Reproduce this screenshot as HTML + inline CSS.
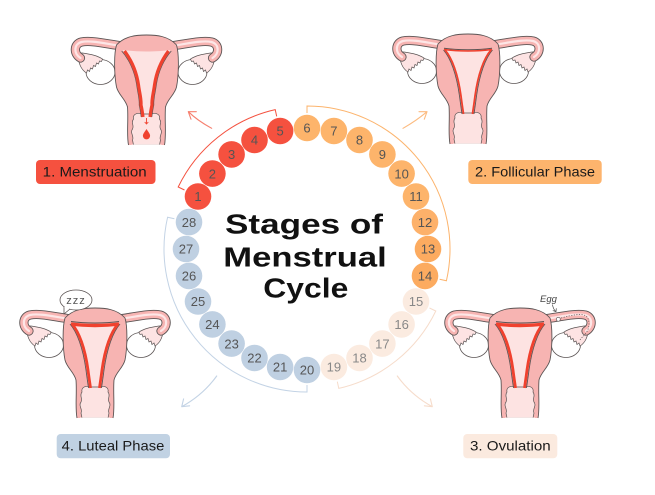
<!DOCTYPE html>
<html><head><meta charset="utf-8"><style>
html,body{margin:0;padding:0;background:#fff;}
svg{display:block;}
text{font-family:"Liberation Sans",sans-serif;}
</style></head><body>
<svg width="655" height="495" viewBox="0 0 655 495" xmlns="http://www.w3.org/2000/svg">
<defs>
<g id="tube">
  <ellipse cx="-46" cy="37" rx="14.5" ry="12.5" fill="#fff" stroke="#5b5454" stroke-width="0.8"/>
  <path d="M -68,18 C -69,28 -65,35 -60,38 L -59,35 L -57,36.5 L -56,33 L -54,34 L -53,30.5 L -51,31.5 L -50,28 L -48,29 L -47,26 L -45,26.5 L -44,24 C -50,20 -58,19 -64,18 Z" fill="#fde3e3" stroke="#5b5454" stroke-width="0.7"/>
  <path d="M -24,11 C -40,9 -55,5 -65,7 C -73,9 -73,19 -66,23" fill="none" stroke="#5b5454" stroke-width="9.2" stroke-linecap="round"/>
  <path d="M -24,11 C -40,9 -55,5 -65,7 C -73,9 -73,19 -66,23" fill="none" stroke="#f7b4b2" stroke-width="7.4" stroke-linecap="round"/>
  <path d="M -24,11 C -40,9 -55,5 -65,7 C -73,9 -73,19 -66,23" fill="none" stroke="#fde6e6" stroke-width="2.2" stroke-linecap="round"/>
</g>
<g id="ut">
  <use href="#tube"/>
  <g transform="scale(-1,1)"><use href="#tube"/></g>
  <path d="M -30,10 C -22,1 -10,0 0,0 C 10,0 22,1 30,10 C 33,20 32,42 30,52 C 28,60 21,64 19,72 C 18,85 20,100 18,110 L -18,110 C -20,100 -18,85 -19,72 C -21,64 -28,60 -30,52 C -32,42 -33,20 -30,10 Z" fill="#f7b4b2"/>
  <path d="M 18,110 C 20,100 18,85 19,72 C 21,64 28,60 30,52 C 32,42 33,20 30,10 C 22,1 10,0 0,0 C -10,0 -22,1 -30,10 C -33,20 -32,42 -30,52 C -28,60 -21,64 -19,72 C -18,85 -20,100 -18,110" fill="none" stroke="#5b5454" stroke-width="0.9"/>
  <path d="M -24,15 C -10,17 10,17 24,15 C 17,24 10,40 7,62 C 6,70 5,76 4,80 L -4,80 C -5,76 -6,70 -7,62 C -10,40 -17,24 -24,15 Z" fill="#fde3e2"/>
  <path d="M -5,79 C -10,77 -14,80 -13,84 C -16,88 -12,90 -14,94 C -17,98 -12,101 -14,105 L -13,110 L 13,110 L 14,105 C 12,101 17,98 14,94 C 12,90 16,88 13,84 C 14,80 10,77 5,79 Z" fill="#fde3e2" stroke="#5b5454" stroke-width="0.7"/>
  <rect x="-15" y="109.6" width="30" height="2" fill="#fff"/>
</g>
</defs>

<!-- Uterus 1: Menstruation -->
<g transform="translate(146.5,35)">
  <use href="#ut"/>
  <path d="M -23,16 C -16,24 -10,36 -8,50 C -7,58 -5,64 -5.5,70 C -4.5,74 -4,78 -3.5,82" fill="none" stroke="#5b5454" stroke-width="0.8" transform="translate(-1.8,0)"/>
  <path d="M 23,16 C 16,24 10,36 8,50 C 7,58 5,64 5.5,70 C 4.5,74 4,78 3.5,82" fill="none" stroke="#5b5454" stroke-width="0.8" transform="translate(1.8,0)"/>
  <path d="M -22,16 C -16,24 -10,36 -8,50 C -7,58 -5,64 -5.5,70 C -4.5,74 -4,78 -3.5,82" fill="none" stroke="#f0412e" stroke-width="3.2"/>
  <path d="M 22,16 C 16,24 10,36 8,50 C 7,58 5,64 5.5,70 C 4.5,74 4,78 3.5,82" fill="none" stroke="#f0412e" stroke-width="3.2"/>
  <path d="M 0,83 L 0,89 M -1.8,87 L 0,89 L 1.8,87" fill="none" stroke="#f0412e" stroke-width="0.9"/>
  <path d="M 0,94 C 2,97 3.6,99 3.6,100.8 A 3.6,3.6 0 0 1 -3.6,100.8 C -3.6,99 -2,97 0,94 Z" fill="#f0412e"/>
</g>

<!-- Uterus 2: Follicular -->
<g transform="translate(468,34)">
  <use href="#ut"/>
  <path d="M -24,15 C -10,17 10,17 24,15" fill="none" stroke="#5b5454" stroke-width="1" transform="translate(0,-0.8)"/>
  <path d="M -24,15.5 C -10,17.5 10,17.5 24,15.5" fill="none" stroke="#f0412e" stroke-width="1.6"/>
  <path d="M -23,16 C -16,24 -10,40 -7,62 C -6,70 -5,76 -4.5,80" fill="none" stroke="#5b5454" stroke-width="0.9" transform="translate(-1.5,0)"/>
  <path d="M 23,16 C 16,24 10,40 7,62 C 6,70 5,76 4.5,80" fill="none" stroke="#5b5454" stroke-width="0.9" transform="translate(1.5,0)"/>
  <path d="M -23,16 C -16,24 -10,40 -7,62 C -6,70 -5,76 -4.5,80" fill="none" stroke="#f0412e" stroke-width="1.8"/>
  <path d="M 23,16 C 16,24 10,40 7,62 C 6,70 5,76 4.5,80" fill="none" stroke="#f0412e" stroke-width="1.8"/>
</g>

<!-- Uterus 3: Luteal -->
<g transform="translate(95,308)">
  <use href="#ut"/>
  <path d="M -24,15 C -10,17 10,17 24,15" fill="none" stroke="#5b5454" stroke-width="1" transform="translate(0,-1.5)"/>
  <path d="M -24,16 C -10,18 10,18 24,16" fill="none" stroke="#f0412e" stroke-width="3.4"/>
  <path d="M -23,16 C -16,24 -10,40 -7,62 C -6,70 -5,76 -4.5,80" fill="none" stroke="#5b5454" stroke-width="0.9" transform="translate(-2,0)"/>
  <path d="M 23,16 C 16,24 10,40 7,62 C 6,70 5,76 4.5,80" fill="none" stroke="#5b5454" stroke-width="0.9" transform="translate(2,0)"/>
  <path d="M -23,16 C -16,24 -10,40 -7,62 C -6,70 -5,76 -4.5,80" fill="none" stroke="#f0412e" stroke-width="2.8"/>
  <path d="M 23,16 C 16,24 10,40 7,62 C 6,70 5,76 4.5,80" fill="none" stroke="#f0412e" stroke-width="2.8"/>
</g>
<!-- zzz bubble -->
<ellipse cx="76" cy="300" rx="16" ry="10" fill="#fff" stroke="#5b5454" stroke-width="0.8"/>
<path d="M 64,306 L 64,314 L 70,309" fill="#fff" stroke="#5b5454" stroke-width="0.8" stroke-linejoin="round"/>
<path d="M 64.5,307 L 69,308.5" stroke="#fff" stroke-width="1.6"/>
<text x="76" y="304" font-size="11" text-anchor="middle" fill="#555" letter-spacing="1">zzz</text>

<!-- Uterus 4: Ovulation -->
<g transform="translate(520,308)">
  <use href="#ut"/>
  <path d="M -24,15 C -10,17 10,17 24,15" fill="none" stroke="#5b5454" stroke-width="1" transform="translate(0,-1.5)"/>
  <path d="M -24,16 C -10,18 10,18 24,16" fill="none" stroke="#f0412e" stroke-width="3.4"/>
  <path d="M -23,16 C -16,24 -10,40 -7,62 C -6,70 -5,76 -4.5,80" fill="none" stroke="#5b5454" stroke-width="0.9" transform="translate(-2,0)"/>
  <path d="M 23,16 C 16,24 10,40 7,62 C 6,70 5,76 4.5,80" fill="none" stroke="#5b5454" stroke-width="0.9" transform="translate(2,0)"/>
  <path d="M -23,16 C -16,24 -10,40 -7,62 C -6,70 -5,76 -4.5,80" fill="none" stroke="#f0412e" stroke-width="2.8"/>
  <path d="M 23,16 C 16,24 10,40 7,62 C 6,70 5,76 4.5,80" fill="none" stroke="#f0412e" stroke-width="2.8"/>
  <path d="M 41,10 C 52,7 62,5 66,8 C 70,11 70,20 66,25 C 64,28 61,30 60,32" fill="none" stroke="#5b5454" stroke-width="0.7" stroke-dasharray="1.2,1.4"/>
  <circle cx="38.3" cy="11.3" r="2" fill="#fff" stroke="#5b5454" stroke-width="0.7"/>
</g>
<text x="540" y="302" font-size="9.5" fill="#444" font-style="italic">Egg</text>
<path d="M 552.5,304.5 Q 553,309 556,311.7 M 552.8,310.6 L 556,311.7 L 556.3,308.3" fill="none" stroke="#444" stroke-width="0.7"/>

<!-- Arcs -->
<path d="M 184.5,190 L 178.2,187 A 143,143 0 0 1 275.2,109.6 L 276.7,116.4" fill="none" stroke="#f4513f" stroke-width="1"/>
<path d="M 307,113 L 307,106 A 143,143 0 0 1 446.4,280.8 L 439.6,279.3" fill="none" stroke="#fcb46d" stroke-width="1"/>
<path d="M 429.5,308 L 435.8,311 A 143,143 0 0 1 338.8,388.4 L 337.3,381.6" fill="none" stroke="#f6dccb" stroke-width="1"/>
<path d="M 307,385 L 307,392 A 143,143 0 0 1 167.6,217.2 L 174.4,218.7" fill="none" stroke="#c3d3e5" stroke-width="1"/>

<!-- Arrows -->
<g fill="none" stroke-width="1.1" stroke-linecap="round" stroke-linejoin="round">
<path d="M 211.7,128.3 Q 198,121 188.3,111.7 M 196.3,111.7 L 188.3,111.7 L 191,119.2" stroke="#f6806f"/>
<path d="M 403,128.3 Q 416,121 427,111.7 M 419,111.7 L 427,111.7 L 424.3,119.2" stroke="#fcbb80"/>
<path d="M 216.7,376 Q 203,395 181.7,406.7 M 189.6,405.8 L 181.7,406.7 L 183.6,398.9" stroke="#c3d3e5"/>
<path d="M 397.3,376 Q 411,395 432.3,406.7 M 424.4,405.8 L 432.3,406.7 L 430.4,398.9" stroke="#f6dccb"/>
</g>

<!-- Day circles -->
<g font-size="13" text-anchor="middle" fill="#555">
<circle cx="198.0" cy="196.5" r="13.3" fill="#f5513f"/>
<circle cx="212.4" cy="173.6" r="13.3" fill="#f5513f"/>
<circle cx="231.6" cy="154.4" r="13.3" fill="#f5513f"/>
<circle cx="254.5" cy="140.0" r="13.3" fill="#f5513f"/>
<circle cx="280.1" cy="131.0" r="13.3" fill="#f5513f"/>
<circle cx="307" cy="128" r="13.3" fill="#fdb46b"/>
<circle cx="333.9" cy="131.0" r="13.3" fill="#fdb46b"/>
<circle cx="359.5" cy="140.0" r="13.3" fill="#fdb46b"/>
<circle cx="382.4" cy="154.4" r="13.3" fill="#fdb46b"/>
<circle cx="401.6" cy="173.6" r="13.3" fill="#fdb46b"/>
<circle cx="416.0" cy="196.5" r="13.3" fill="#fdb46b"/>
<circle cx="425.0" cy="222.1" r="13.3" fill="#fdb16a"/>
<circle cx="428" cy="249" r="13.3" fill="#fcab60"/>
<circle cx="425.0" cy="275.9" r="13.3" fill="#fcab60"/>
<circle cx="416.0" cy="301.5" r="13.3" fill="#fbebe0"/>
<circle cx="401.6" cy="324.4" r="13.3" fill="#fbebe0"/>
<circle cx="382.4" cy="343.6" r="13.3" fill="#fbebe0"/>
<circle cx="359.5" cy="358.0" r="13.3" fill="#fbebe0"/>
<circle cx="333.9" cy="367.0" r="13.3" fill="#fbebe0"/>
<circle cx="307" cy="370" r="13.3" fill="#bfd0e2"/>
<circle cx="280.1" cy="367.0" r="13.3" fill="#bfd0e2"/>
<circle cx="254.5" cy="358.0" r="13.3" fill="#bfd0e2"/>
<circle cx="231.6" cy="343.6" r="13.3" fill="#bfd0e2"/>
<circle cx="212.4" cy="324.4" r="13.3" fill="#bfd0e2"/>
<circle cx="198.0" cy="301.5" r="13.3" fill="#bfd0e2"/>
<circle cx="189.0" cy="275.9" r="13.3" fill="#bfd0e2"/>
<circle cx="186" cy="249" r="13.3" fill="#bfd0e2"/>
<circle cx="189.0" cy="222.1" r="13.3" fill="#bfd0e2"/>
<text x="198.0" y="201.2">1</text>
<text x="212.4" y="178.3">2</text>
<text x="231.6" y="159.1">3</text>
<text x="254.5" y="144.7">4</text>
<text x="280.1" y="135.7">5</text>
<text x="307" y="132.7">6</text>
<text x="333.9" y="135.7">7</text>
<text x="359.5" y="144.7">8</text>
<text x="382.4" y="159.1">9</text>
<text x="401.6" y="178.3">10</text>
<text x="416.0" y="201.2">11</text>
<text x="425.0" y="226.8">12</text>
<text x="428" y="253.7">13</text>
<text x="425.0" y="280.6">14</text>
<text x="416.0" y="306.2" fill="#888">15</text>
<text x="401.6" y="329.1" fill="#888">16</text>
<text x="382.4" y="348.3" fill="#888">17</text>
<text x="359.5" y="362.7" fill="#888">18</text>
<text x="333.9" y="371.7" fill="#888">19</text>
<text x="307" y="374.7">20</text>
<text x="280.1" y="371.7">21</text>
<text x="254.5" y="362.7">22</text>
<text x="231.6" y="348.3">23</text>
<text x="212.4" y="329.1">24</text>
<text x="198.0" y="306.2">25</text>
<text x="189.0" y="280.6">26</text>
<text x="186" y="253.7">27</text>
<text x="189.0" y="226.8">28</text>
</g>

<!-- Title -->
<g font-size="28" font-weight="bold" fill="#111">
<text x="225" y="233.3" textLength="158" lengthAdjust="spacingAndGlyphs">Stages of</text>
<text x="223.3" y="266.7" textLength="163.4" lengthAdjust="spacingAndGlyphs">Menstrual</text>
<text x="263.3" y="297.7" textLength="85" lengthAdjust="spacingAndGlyphs">Cycle</text>
</g>

<!-- Labels -->
<rect x="36" y="160" width="119.5" height="24" rx="4" fill="#f5513f"/>
<text x="42.7" y="176.7" font-size="14" fill="#1a1a1a" textLength="104" lengthAdjust="spacingAndGlyphs">1. Menstruation</text>
<rect x="468.3" y="160" width="133.4" height="24" rx="4" fill="#fdb46d"/>
<text x="475" y="176.7" font-size="14" fill="#1a1a1a" textLength="120" lengthAdjust="spacingAndGlyphs">2. Follicular Phase</text>
<rect x="56.7" y="434" width="113.3" height="24.3" rx="4" fill="#c1d2e3"/>
<text x="61.7" y="450.7" font-size="14" fill="#1a1a1a" textLength="102.6" lengthAdjust="spacingAndGlyphs">4. Luteal Phase</text>
<rect x="463.3" y="434" width="94" height="24.3" rx="4" fill="#fbeadf"/>
<text x="470" y="450.7" font-size="14" fill="#1a1a1a" textLength="80.7" lengthAdjust="spacingAndGlyphs">3. Ovulation</text>
</svg>
</body></html>
